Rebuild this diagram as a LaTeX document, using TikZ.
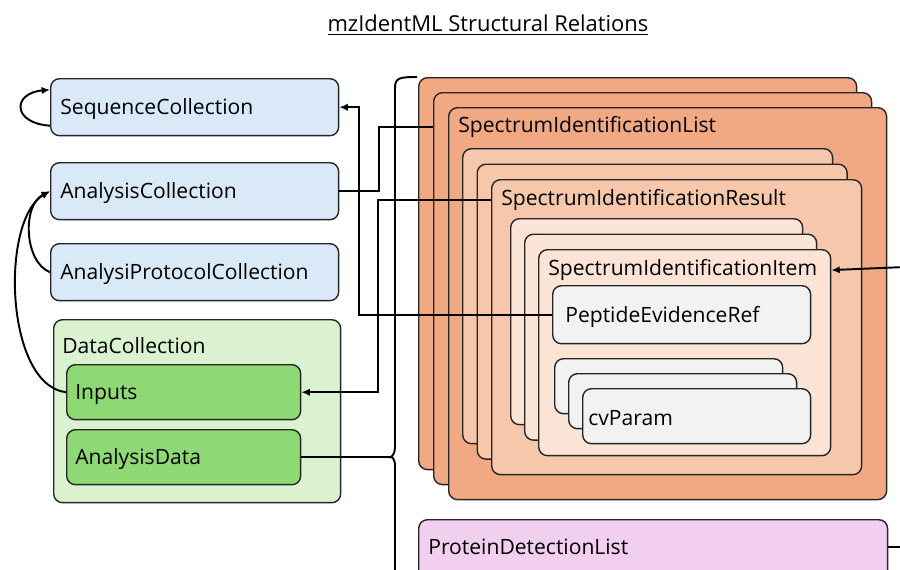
\documentclass[tikz,border=0pt]{standalone}
\usepackage{fontspec}
\setmainfont{Open Sans}
\usepackage{tikz}
\usepackage{xcolor}
\usetikzlibrary{calc,arrows.meta}

\definecolor{seqblue}{HTML}{DAE9F8}
\definecolor{dcgreen}{HTML}{DAF2D0}
\definecolor{ingreen}{HTML}{8ED973}
\definecolor{silorange}{HTML}{F1A983}
\definecolor{sirorange}{HTML}{F7C7AC}
\definecolor{siiorange}{HTML}{FBE3D6}
\definecolor{refgray}{HTML}{F2F2F2}
\definecolor{pdlpink}{HTML}{F2CFEE}

\begin{document}
\begin{tikzpicture}[x=0.02cm,y=-0.02cm]
            \tikzstyle{box}=[draw=black!85,line width=0.8pt,rounded corners=5pt,anchor=north west,inner sep=0pt]
            \tikzstyle{txt}=[anchor=west,inner sep=0pt,yshift=-1.2pt,font=\fontsize{12}{14}\selectfont]
            \tikzstyle{conn}=[line width=1.1pt,>={Latex[length=4.8pt,width=4.2pt]}]
            \useasboundingbox (0,0) rectangle (900,569);
            \clip (0,0) rectangle (900,569);
            \node[inner sep=0pt,font=\fontsize{12.5}{14}\selectfont] (title) at (488,25) {\underline{mzIdentML Structural Relations}};
            % left column
            \node[box,fill=seqblue,minimum width=5.76cm,minimum height=1.14cm] (seq) at (50,78) {};
            \node[box,fill=seqblue,minimum width=5.76cm,minimum height=1.14cm] (anc) at (50,162) {};
            \node[box,fill=seqblue,minimum width=5.76cm,minimum height=1.14cm] (apc) at (50,243) {};
            \node[txt] (seqT) at ($(seq.west)+(10,0)$) {SequenceCollection};
            \node[txt] (ancT) at ($(anc.west)+(10,0)$) {AnalysisCollection};
            \node[txt] (apcT) at ($(apc.west)+(10,0)$) {AnalysiProtocolCollection};
            \node[box,fill=dcgreen,minimum width=5.74cm,minimum height=3.66cm] (dc) at (53,319) {};
            \node[txt] (dcT) at ($(dc.north west)+(9,24)$) {DataCollection};
            \node[box,fill=ingreen,minimum width=4.68cm,minimum height=1.1cm] (inp) at (66,364) {};
            \node[box,fill=ingreen,minimum width=4.68cm,minimum height=1.1cm] (ad) at (66,429) {};
            \node[txt] (inpT) at ($(inp.west)+(9,0)$) {Inputs};
            \node[txt] (adT) at ($(ad.west)+(9,0)$) {AnalysisData};
            % right stacks
            \foreach \i in {0,1,2}
                \node[box,fill=silorange,minimum width=8.76cm,minimum height=7.84cm] (sil\i) at (418+15*\i,77+15*\i) {};
            \node[txt] (silT) at ($(sil2.north west)+(10,18)$) {SpectrumIdentificationList};
            \foreach \i in {0,1,2}
                \node[box,fill=sirorange,minimum width=7.4cm,minimum height=5.9cm] (sir\i) at (462+14.5*\i,148+15.5*\i) {};
            \node[txt] (sirT) at ($(sir2.north west)+(10,19)$) {SpectrumIdentificationResult};
            \foreach \i in {0,1,2}
                \node[box,fill=siiorange,minimum width=5.84cm,minimum height=4.12cm] (sii\i) at (510+14*\i,218+15.5*\i) {};
            \node[txt] (siiT) at ($(sii2.north west)+(10,19)$) {SpectrumIdentificationItem};
            \node[box,fill=refgray,minimum width=5.16cm,minimum height=1.16cm] (pep) at (552,285) {};
            \node[txt] (pepT) at ($(pep.west)+(13,0)$) {PeptideEvidenceRef};
            \foreach \i in {0,1,2}
                \node[box,fill=refgray,minimum width=4.56cm,minimum height=1.1cm] (cv\i) at (554+14*\i,358+15*\i) {};
            \node[txt] (cvT) at ($(cv2.west)+(6,0)$) {cvParam};
            \node[box,fill=pdlpink,minimum width=9.38cm,minimum height=1.6cm] (pdl) at (418,519) {};
            \node[txt] (pdlT) at ($(pdl.north west)+(10,26)$) {ProteinDetectionList};
            % connectors
            \coordinate (brace) at ($(ad.east)+(89,0)$);
            \coordinate (offA) at (905,267);
            \coordinate (offB) at ($(pdl.east |- pdlT)+(20,0)$);
            \draw[conn,->] (pep.west) -| ($(seq.east)+(20,0)$) -- (seq.east);
            \draw[conn] (anc.east) -- ++(40,0) |- (sil1.west |- silT);
            \draw[conn,->] (sir2.west |- sirT) -| ($(inp.east)+(77,0)$) -- (inp.east);
            \draw[conn] (ad.east) -- (brace);
            \draw[conn] (417,77) .. controls (399,77) and (395,78) .. (395,88) -- (395,447)
                .. controls (395,454) and (392,456.5) .. (brace)
                .. controls (392,456.5) and (395,459) .. (395,466) -- (395,580);
            \draw[conn,->] (offA) -- (sii2.east |- siiT);
            \draw[conn] (pdl.east |- pdlT) -- (offB);
            \draw[conn,->] ($(seq.west)+(0,18.5)$) .. controls ($(seq.west)+(-38,16)$) and ($(seq.west)+(-38,-14)$) .. ($(seq.west)+(0,-17.5)$);
            \draw[conn,->] (apc.west) .. controls (24,262) and (22,205) .. (anc.west);
            \draw[conn,->] (inp.west) .. controls (5,385) and (0,220) .. (anc.west);
        \end{tikzpicture}
\end{document}
